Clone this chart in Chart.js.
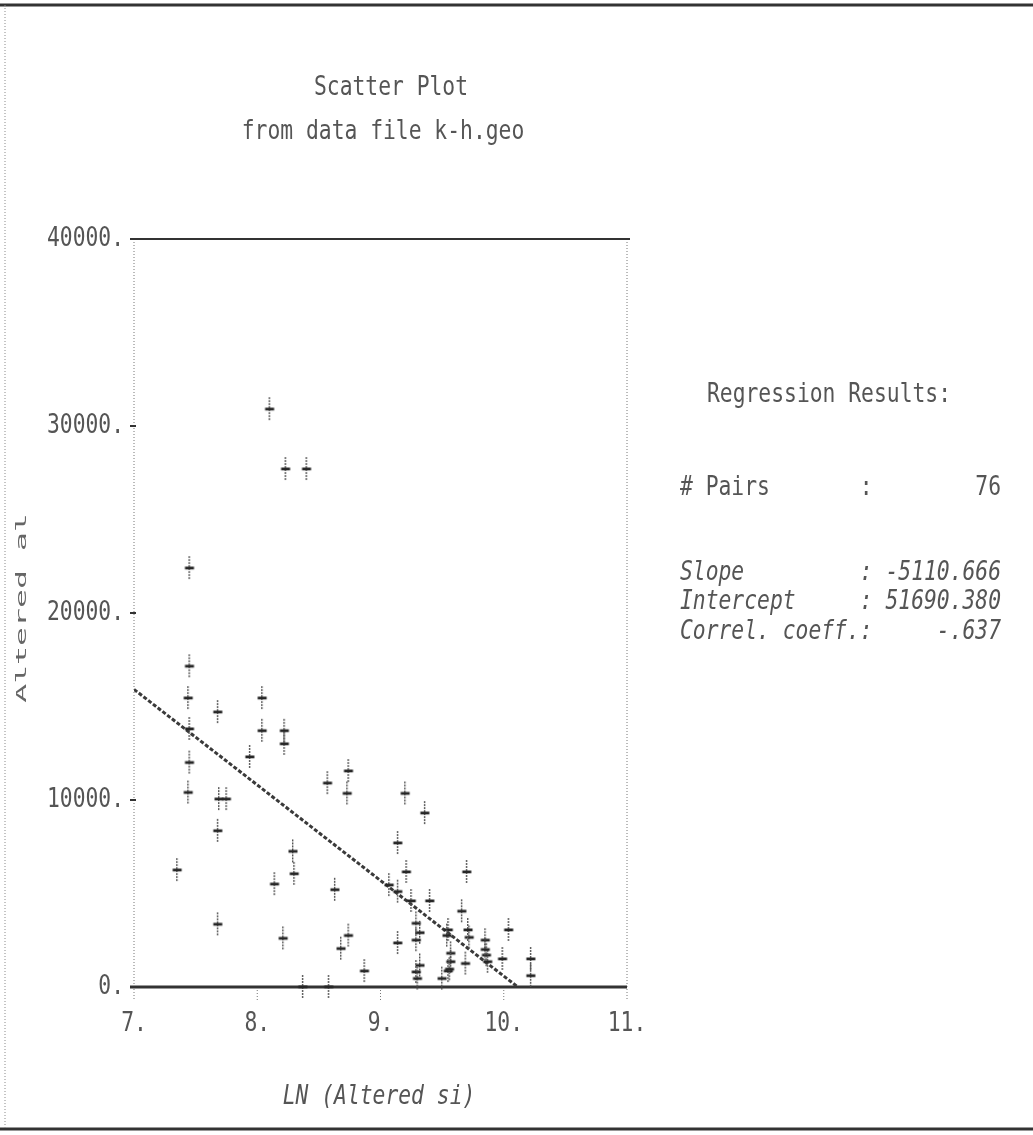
<!DOCTYPE html>
<html>
<head>
<meta charset="utf-8">
<title>Scatter Plot</title>
<script src="https://cdn.jsdelivr.net/npm/chart.js@4.4.1/dist/chart.umd.min.js"></script>
<style>
  html, body { margin: 0; padding: 0; background: #fff; }
  #wrap { width: 1033px; height: 1135px; }
</style>
</head>
<body>
<div id="wrap"><canvas id="plot" width="1033" height="1135"></canvas></div>
<script>
// LN(Altered si) vs altered value, one entry per sample
const lnAlteredSi = [
  8.10, 8.23, 8.40, 7.45, 7.45, 7.44, 8.04, 7.68, 7.45, 8.04,
  8.22, 8.22, 7.94, 7.45, 7.44, 7.69, 7.75, 7.68, 8.29, 8.30,
  7.35, 8.14, 7.68, 8.21, 8.37, 8.58, 8.57, 8.74, 8.73, 9.20,
  9.36, 9.14, 9.21, 8.63, 9.07, 9.14, 9.25, 9.40, 8.74, 8.68,
  9.14, 9.29, 9.32, 9.29, 8.87, 9.32, 9.29, 9.30, 9.55, 9.54,
  9.57, 9.57, 9.55, 9.50, 9.70, 9.66, 9.72, 9.71, 9.85, 9.86,
  9.87, 10.04, 9.99, 10.22, 10.22, 9.69, 9.85, 9.56
];
const alteredValue = [
  30900, 27700, 27700, 22400, 17150, 15450, 15450, 14700, 13800, 13700,
  13700, 13000, 12300, 12000, 10400, 10050, 10050, 8350, 7250, 6050,
  6250, 5500, 3350, 2600, 0, 0, 10900, 11550, 10350, 10350,
  9300, 7700, 6150, 5200, 5450, 5100, 4600, 4600, 2750, 2050,
  2350, 3400, 2900, 2500, 850, 1150, 800, 450, 3050, 2750,
  1800, 1350, 850, 450, 6150, 4050, 2650, 3050, 2500, 1700,
  1350, 3050, 1500, 1500, 600, 1250, 2000, 950
];

const xTicks = [7, 8, 9, 10, 11];
const yTicks = [0, 10000, 20000, 30000, 40000];

// regression results printed beside the plot
const pairCount = 76;
const slope = -5110.666;
const intercept = 51690.380;
const correl = -0.637;

// fitted line runs from the left edge down to where it meets zero
const fitX = [7, -intercept / slope];
const fitY = fitX.map(x => intercept + slope * x);

const MONO = '"DejaVu Sans Mono", "Liberation Mono", monospace';
const INK = '#555';

function dotText(ctx, str, x, y, opt = {}) {
  ctx.save();
  ctx.translate(x, y);
  if (opt.rotate) ctx.rotate(opt.rotate);
  ctx.scale(opt.sx || 0.79, opt.sy || 1);
  ctx.font = (opt.italic ? 'italic ' : '') + (opt.size || 27) + 'px ' + MONO;
  ctx.fillStyle = opt.color || INK;
  ctx.textAlign = opt.align || 'left';
  ctx.textBaseline = 'middle';
  ctx.fillText(str, 0, 0);
  ctx.restore();
}

// printer-style "+" : dotted upright, heavy crossbar
function makeCross() {
  const c = document.createElement('canvas');
  c.width = 12;
  c.height = 26;
  const g = c.getContext('2d');
  g.fillStyle = '#555';
  for (let y = 1; y < 25; y += 3) g.fillRect(5, y, 1.4, 2);
  g.fillStyle = '#262626';
  g.fillRect(1.5, 11.5, 9, 2.8);
  return c;
}

const framePlugin = {
  id: 'frame',
  beforeDatasetsDraw(chart) {
    const { ctx, chartArea: a, scales } = chart;
    ctx.save();
    ctx.strokeStyle = '#333';

    // page border
    ctx.lineWidth = 3;
    ctx.beginPath();
    ctx.moveTo(0, 5); ctx.lineTo(1033, 5);
    ctx.moveTo(0, 1129); ctx.lineTo(1033, 1129);
    ctx.stroke();
    ctx.lineWidth = 1;
    ctx.strokeStyle = '#8a8a8a';
    ctx.setLineDash([1, 2]);
    ctx.beginPath();
    ctx.moveTo(5, 5); ctx.lineTo(5, 1129);
    ctx.stroke();

    // dotted side walls of the plot box, reaching below the base line
    ctx.strokeStyle = '#777';
    ctx.beginPath();
    ctx.moveTo(a.left, a.top); ctx.lineTo(a.left, a.bottom + 14);
    ctx.moveTo(a.right, a.top); ctx.lineTo(a.right, a.bottom + 14);
    xTicks.slice(1, -1).forEach(v => {
      const px = scales.x.getPixelForValue(v);
      ctx.moveTo(px, a.bottom); ctx.lineTo(px, a.bottom + 14);
    });
    ctx.stroke();
    ctx.setLineDash([]);

    // solid top and base lines
    ctx.strokeStyle = '#333';
    ctx.lineWidth = 2.2;
    ctx.beginPath();
    ctx.moveTo(a.left - 2, a.top); ctx.lineTo(a.right + 3, a.top);
    ctx.stroke();
    ctx.lineWidth = 3;
    ctx.beginPath();
    ctx.moveTo(a.left - 4, a.bottom); ctx.lineTo(a.right, a.bottom);
    ctx.stroke();

    // small ticks on the left wall
    ctx.lineWidth = 2;
    ctx.beginPath();
    yTicks.forEach(v => {
      const py = scales.y.getPixelForValue(v);
      ctx.moveTo(a.left - 4, py); ctx.lineTo(a.left + 2, py);
    });
    ctx.stroke();
    ctx.restore();
  }
};

const textPlugin = {
  id: 'printout',
  afterDraw(chart) {
    const { ctx, chartArea: a, scales } = chart;

    yTicks.forEach(v => {
      dotText(ctx, v + '.', a.left - 10, scales.y.getPixelForValue(v), { align: 'right' });
    });
    xTicks.forEach(v => {
      dotText(ctx, v + '.', scales.x.getPixelForValue(v), 1024, { align: 'center' });
    });

    dotText(ctx, 'Scatter Plot', 391, 88, { align: 'center' });
    dotText(ctx, 'from data file k-h.geo', 383, 132, { align: 'center' });
    dotText(ctx, 'LN (Altered si)', 379, 1097, { align: 'center', italic: true });
    dotText(ctx, 'Altered al', 22, 608, { align: 'center', rotate: -Math.PI / 2, size: 14, sx: 2.25, color: '#666' });

    const left = 680;
    dotText(ctx, 'Regression Results:', 707, 395);
    dotText(ctx, '# Pairs       :' + String(pairCount).padStart(10), left, 488);
    dotText(ctx, 'Slope         : ' + slope.toFixed(3), left, 573, { italic: true });
    dotText(ctx, 'Intercept     : ' + intercept.toFixed(3), left, 602, { italic: true });
    dotText(ctx, 'Correl. coeff.:' + correl.toFixed(3).replace('0.', '.').padStart(10), left, 632, { italic: true });
  }
};

const cross = makeCross();

new Chart(document.getElementById('plot'), {
  type: 'scatter',
  data: {
    datasets: [
      {
        label: 'Samples',
        data: lnAlteredSi.map((x, i) => ({ x: x, y: alteredValue[i] })),
        pointStyle: cross,
        pointRadius: 6,
        clip: false
      },
      {
        type: 'line',
        label: 'Regression',
        data: fitX.map((x, i) => ({ x: x, y: fitY[i] })),
        borderColor: '#3a3a3a',
        borderWidth: 3,
        borderDash: [4, 2],
        pointRadius: 0,
        fill: false,
        tension: 0
      }
    ]
  },
  options: {
    responsive: false,
    animation: false,
    devicePixelRatio: 1,
    layout: { padding: { left: 134, right: 406, top: 239, bottom: 148 } },
    scales: {
      x: { type: 'linear', min: 7, max: 11, display: false },
      y: { type: 'linear', min: 0, max: 40000, display: false }
    },
    plugins: {
      legend: { display: false },
      tooltip: { enabled: false }
    }
  },
  plugins: [framePlugin, textPlugin]
});
</script>
</body>
</html>
